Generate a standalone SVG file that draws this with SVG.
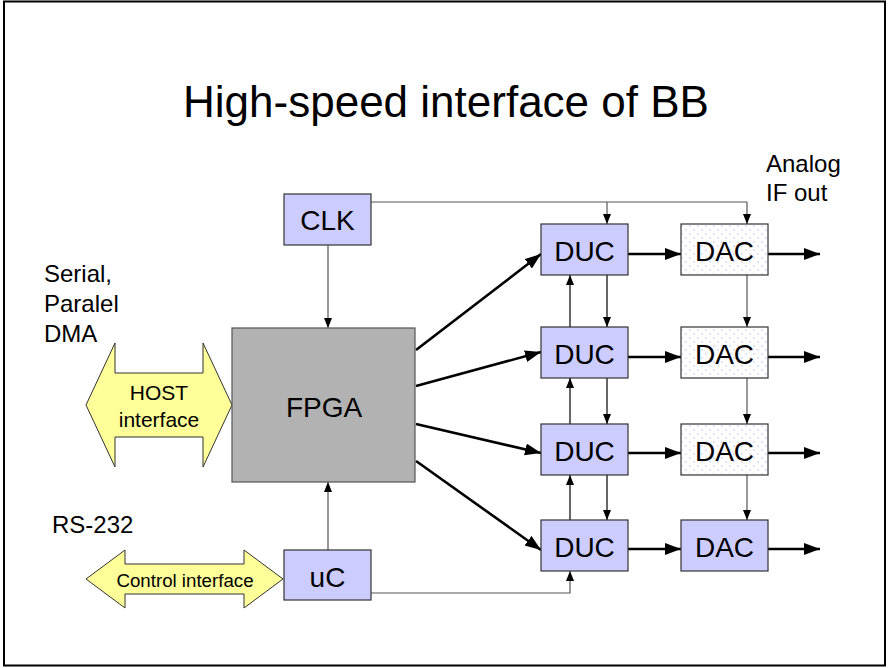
<svg xmlns="http://www.w3.org/2000/svg" width="888" height="668" viewBox="0 0 888 668">
  <style>
    text { font-family: "Liberation Sans", Arial, sans-serif; fill: #000; }
    .blk { fill: #ccccff; stroke: #333; stroke-width: 1.2; }
    .dac { fill: url(#dots); stroke: #333; stroke-width: 1.2; }
    .fpga { fill: #b2b2b2; stroke: #555; stroke-width: 1.2; }
    .bus { fill: #ffff99; stroke: #333; stroke-width: 1; }
    .lbl { font-size: 28px; text-anchor: middle; }
    .note { font-size: 24px; }
    .thick { stroke: #000; stroke-width: 2.6; fill: none; marker-end: url(#headBig); }
    .thin { stroke: #555; stroke-width: 1.2; fill: none; marker-end: url(#headSmall); }
    .thinb { stroke: #000; stroke-width: 1.2; fill: none; marker-end: url(#headSmall); }
    .wire { stroke: #555; stroke-width: 1.2; fill: none; }
  </style>
  <defs>
    <pattern id="dots" width="8" height="8" patternUnits="userSpaceOnUse">
      <rect width="8" height="8" fill="#ffffff"/>
      <circle cx="2" cy="2" r="0.7" fill="#b4b4f0"/>
      <circle cx="6" cy="6" r="0.7" fill="#b4b4f0"/>
    </pattern>
    <marker id="headBig" markerUnits="userSpaceOnUse" markerWidth="17" markerHeight="13" refX="16" refY="6" orient="auto">
      <path d="M0,0 L16,6 L0,12 z" fill="#000"/>
    </marker>
    <marker id="headSmall" markerUnits="userSpaceOnUse" markerWidth="11" markerHeight="9" refX="10" refY="4" orient="auto">
      <path d="M0,0 L10,4 L0,8 z" fill="#000"/>
    </marker>
  </defs>

  <rect x="0" y="0" width="888" height="668" fill="#ffffff"/>
  <!-- page frame -->
  <rect x="4" y="1.5" width="881" height="664" fill="none" stroke="#000" stroke-width="2"/>

  <text x="446" y="117" font-size="44" text-anchor="middle">High-speed interface of BB</text>

  <g id="side-labels">
    <text class="note" x="766" y="172" font-size="22">Analog</text>
    <text class="note" x="766" y="201" font-size="22">IF out</text>
    <text class="note" x="44" y="282">Serial,</text>
    <text class="note" x="44" y="312">Paralel</text>
    <text class="note" x="44" y="342">DMA</text>
    <text class="note" x="52" y="533">RS-232</text>
  </g>

  <!-- connectors -->
  <g id="connectors">
    <!-- clock distribution -->
    <line class="thin" x1="328" y1="245" x2="328" y2="328"/>
    <polyline class="wire" points="371,202 747,202"/>
    <line class="thin" x1="607" y1="202" x2="607" y2="224"/>
    <line class="thin" x1="747" y1="202" x2="747" y2="224"/>
    <!-- microcontroller -->
    <line class="thin" x1="328" y1="550" x2="328" y2="482"/>
    <polyline class="thin" points="371,593 570,593 570,571"/>
    <!-- FPGA fan-out -->
    <line class="thick" x1="416" y1="350" x2="541" y2="254"/>
    <line class="thick" x1="416" y1="386" x2="541" y2="352"/>
    <line class="thick" x1="416" y1="424" x2="541" y2="453"/>
    <line class="thick" x1="416" y1="461" x2="541" y2="550"/>
    <!-- DUC to DAC -->
    <line class="thick" x1="628" y1="254" x2="681" y2="254"/>
    <line class="thick" x1="628" y1="357" x2="681" y2="357"/>
    <line class="thick" x1="628" y1="453" x2="681" y2="453"/>
    <line class="thick" x1="628" y1="549" x2="681" y2="549"/>
    <!-- analog outputs -->
    <line class="thick" x1="768" y1="254" x2="820" y2="254"/>
    <line class="thick" x1="768" y1="357" x2="820" y2="357"/>
    <line class="thick" x1="768" y1="453" x2="820" y2="453"/>
    <line class="thick" x1="768" y1="549" x2="820" y2="549"/>
    <!-- DUC chain, down -->
    <line class="thinb" x1="607" y1="275" x2="607" y2="327"/>
    <line class="thinb" x1="607" y1="378" x2="607" y2="424"/>
    <line class="thinb" x1="607" y1="475" x2="607" y2="520"/>
    <!-- DUC chain, up -->
    <line class="thinb" x1="570" y1="327" x2="570" y2="275"/>
    <line class="thinb" x1="570" y1="424" x2="570" y2="378"/>
    <line class="thinb" x1="570" y1="520" x2="570" y2="475"/>
    <!-- DAC chain -->
    <line class="thin" x1="747" y1="275" x2="747" y2="327"/>
    <line class="thin" x1="747" y1="378" x2="747" y2="424"/>
    <line class="thin" x1="747" y1="475" x2="747" y2="520"/>
  </g>

  <g id="host">
    <polygon class="bus" points="86,405 115,343 115,373 203,373 203,343 232,405 203,467 203,437 115,437 115,467"/>
    <text x="159" y="400" font-size="21" text-anchor="middle">HOST</text>
    <text x="159" y="427" font-size="21" text-anchor="middle">interface</text>
  </g>

  <g id="control">
    <polygon class="bus" points="86,579 125,550 125,564 244,564 244,550 283,579 244,608 244,594 125,594 125,608"/>
    <text x="185" y="587" font-size="18.7" text-anchor="middle">Control interface</text>
  </g>

  <g id="clk">
    <rect class="blk" x="284" y="194" width="87" height="51"/>
    <text class="lbl" x="327.5" y="230">CLK</text>
  </g>

  <g id="fpga">
    <rect class="fpga" x="232" y="328" width="183" height="154"/>
    <text class="lbl" x="324" y="417" font-size="29">FPGA</text>
  </g>

  <g id="uc">
    <rect class="blk" x="284" y="550" width="87" height="50"/>
    <text class="lbl" x="327.5" y="587">uC</text>
  </g>

  <g id="duc1">
    <rect class="blk" x="541" y="224" width="87" height="51"/>
    <text class="lbl" x="584.5" y="261">DUC</text>
  </g>
  <g id="duc2">
    <rect class="blk" x="541" y="327" width="87" height="51"/>
    <text class="lbl" x="584.5" y="364">DUC</text>
  </g>
  <g id="duc3">
    <rect class="blk" x="541" y="424" width="87" height="51"/>
    <text class="lbl" x="584.5" y="461">DUC</text>
  </g>
  <g id="duc4">
    <rect class="blk" x="541" y="520" width="87" height="51"/>
    <text class="lbl" x="584.5" y="557">DUC</text>
  </g>

  <g id="dac1">
    <rect class="dac" x="681" y="224" width="87" height="51"/>
    <text class="lbl" x="724.5" y="261">DAC</text>
  </g>
  <g id="dac2">
    <rect class="dac" x="681" y="327" width="87" height="51"/>
    <text class="lbl" x="724.5" y="364">DAC</text>
  </g>
  <g id="dac3">
    <rect class="dac" x="681" y="424" width="87" height="51"/>
    <text class="lbl" x="724.5" y="461">DAC</text>
  </g>
  <g id="dac4">
    <rect class="blk" x="681" y="520" width="87" height="51"/>
    <text class="lbl" x="724.5" y="557">DAC</text>
  </g>
</svg>
